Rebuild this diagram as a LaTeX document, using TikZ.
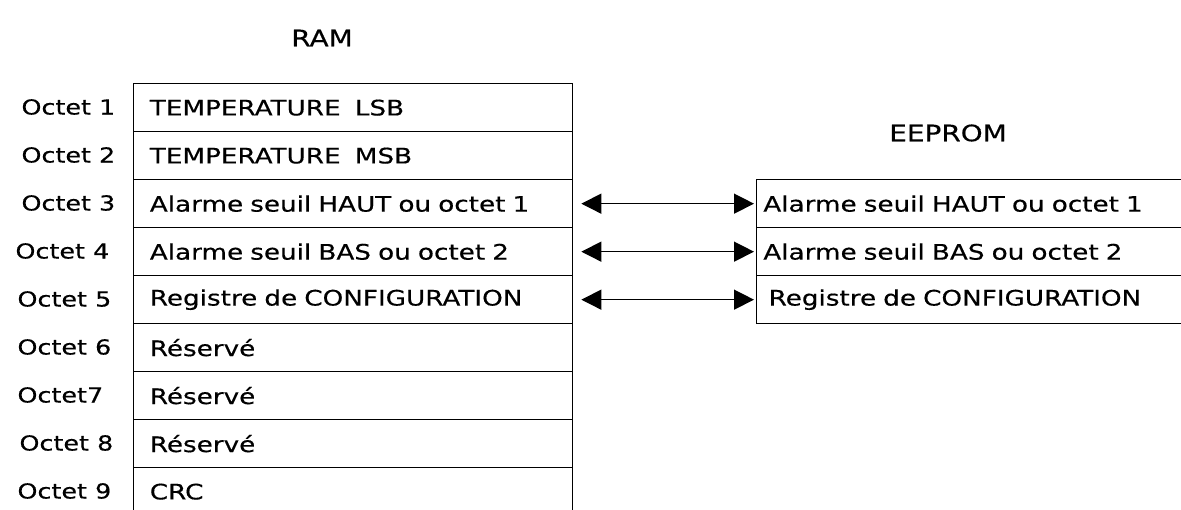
\documentclass[tikz,border=0pt]{standalone}
\usepackage{fontspec}
\setmainfont[FakeStretch=1.23,FakeBold=0.4]{DejaVu Sans}
\usetikzlibrary{arrows.meta}

\tikzset{every picture/.style={line width=0.75pt}}
\tikzset{
  ramcell/.style={draw, line width=1pt, rectangle, anchor=north west, minimum width=329.25pt, minimum height=36pt, text width=305pt, align=left, inner xsep=10.5pt, inner ysep=0pt, font=\fontsize{16}{19}\selectfont},
  eepcell/.style={draw, line width=1pt, rectangle, anchor=north west, minimum width=330pt, minimum height=36pt, text width=320pt, align=left, inner xsep=4pt, inner ysep=0pt, font=\fontsize{16}{19}\selectfont},
  octet/.style={anchor=west, inner sep=0.75pt, font=\fontsize{15.5}{18}\selectfont},
  titre/.style={inner sep=0.75pt, font=\fontsize{17}{20}\selectfont},
  lien/.style={{Triangle[length=15pt,width=15pt]}-{Triangle[length=15pt,width=15pt]}, line width=1pt, shorten <=6pt, shorten >=1.5pt}
}

\begin{document}
\begin{tikzpicture}[x=0.75pt,y=0.75pt,yscale=-1,xscale=1]
\useasboundingbox (0,0) rectangle (1181,510);
\clip (0,0) rectangle (1181,510);

% Text Node
\node[titre] (ram) at (322,38) {RAM};
% Text Node
\node[titre] (eeprom) at (948,133) {EEPROM};

%Shape: Rectangle (RAM)
\node[ramcell] (ram1) at (133,83) {TEMPERATURE~~LSB};
\node[ramcell] (ram2) at (133,131) {TEMPERATURE~~MSB};
\node[ramcell] (ram3) at (133,179) {Alarme seuil HAUT ou octet 1};
\node[ramcell] (ram4) at (133,227) {Alarme seuil BAS ou octet 2};
\node[ramcell] (ram5) at (133,275) {Registre de CONFIGURATION};
\node[ramcell] (ram6) at (133,323) {Réservé};
\node[ramcell] (ram7) at (133,371) {Réservé};
\node[ramcell] (ram8) at (133,419) {Réservé};
\node[ramcell] (ram9) at (133,467) {CRC};

%Shape: Rectangle (EEPROM)
\node[eepcell] (eep3) at (756,179) {Alarme seuil HAUT ou octet 1};
\node[eepcell] (eep4) at (756,227) {Alarme seuil BAS ou octet 2};
\node[eepcell] (eep5) at (756,275) {\hspace{4pt}Registre de CONFIGURATION};

% Text Node
\node[octet] (oct1) at (20,107) {Octet 1};
\node[octet] (oct2) at (20,155) {Octet 2};
\node[octet] (oct3) at (20,203) {Octet 3};
\node[octet] (oct4) at (14,251) {Octet 4};
\node[octet] (oct5) at (16,299) {Octet 5};
\node[octet] (oct6) at (16,347) {Octet 6};
\node[octet] (oct7) at (16,395) {Octet7};
\node[octet] (oct8) at (18,443) {Octet 8};
\node[octet] (oct9) at (16,491) {Octet 9};

%Straight Lines
\draw[lien] (ram3.east) -- (eep3.west);
\draw[lien] (ram4.east) -- (eep4.west);
\draw[lien] (ram5.east) -- (eep5.west);

\end{tikzpicture}
\end{document}
